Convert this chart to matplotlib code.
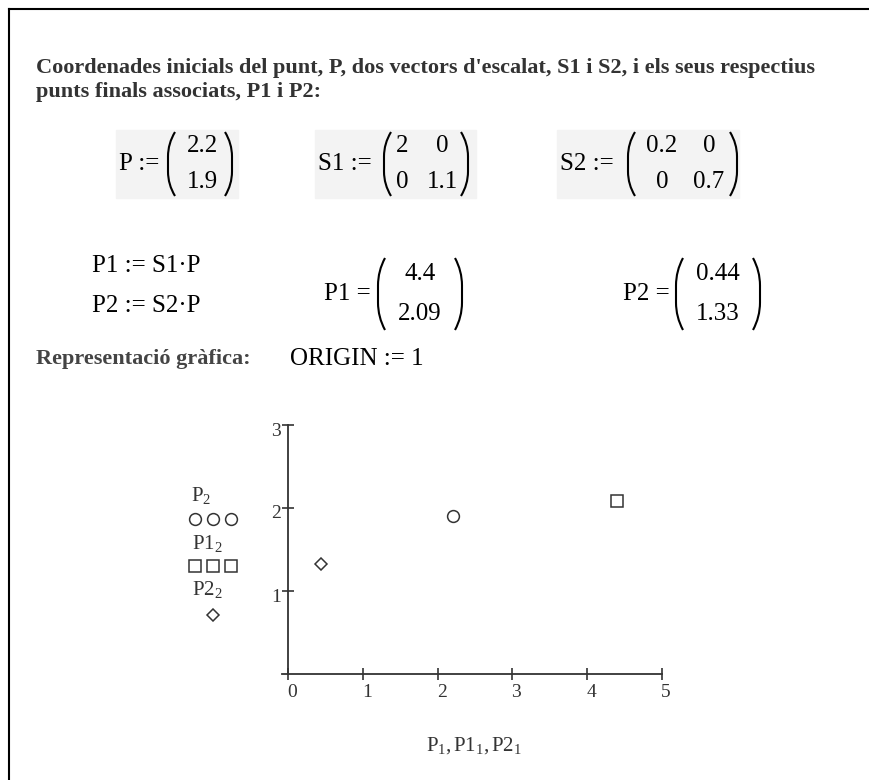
import numpy as np
import matplotlib.pyplot as plt
from matplotlib.path import Path
from matplotlib.patches import PathPatch, Rectangle
from matplotlib.transforms import ScaledTranslation

plt.rcParams['font.family'] = ['Liberation Serif', 'DejaVu Serif']
plt.rcParams['mathtext.fontset'] = 'custom'
plt.rcParams['mathtext.rm'] = 'Liberation Serif'
plt.rcParams['mathtext.it'] = 'Liberation Serif:italic'
plt.rcParams['mathtext.bf'] = 'Liberation Serif:bold'

# punt inicial, matrius d'escalat i punts finals
P = [2.2, 1.9]
S1 = [[2, 0], [0, 1.1]]
S2 = [[0.2, 0], [0, 0.7]]
P1 = [4.4, 2.09]
P2 = [0.44, 1.33]

x_ticks = [0, 1, 2, 3, 4, 5]
y_ticks = [1, 2, 3]

W, H = 869, 780
fig = plt.figure(figsize=(W / 100, H / 100), dpi=100)

# capa de fons en píxels per al text del full
ov = fig.add_axes([0, 0, 1, 1])
ov.set_xlim(0, W)
ov.set_ylim(H, 0)
ov.axis('off')

ov.plot([9, W], [9, 9], color='black', lw=1.5)
ov.plot([9, 9], [9, H], color='black', lw=1.5)

title_kw = dict(fontsize=16, fontweight='bold', color='#333333', va='center', ha='left')
ov.text(36, 68, "Coordenades inicials del punt, P, dos vectors d'escalat, S1 i S2, i els seus respectius", **title_kw)
ov.text(36, 92, "punts finals associats, P1 i P2:", **title_kw)

math_kw = dict(fontsize=18, color='black', va='center')


def fmt(v):
    return f"{v:g}"


def paren(x, top, bot, left=True, w=7):
    h = bot - top
    s = 1 if left else -1
    verts = [(x + s * w, top), (x, top + 0.18 * h), (x, top + 0.38 * h),
             (x, bot - 0.38 * h), (x, bot - 0.18 * h), (x + s * w, bot)]
    codes = [Path.MOVETO, Path.CURVE3, Path.CURVE3, Path.LINETO, Path.CURVE3, Path.CURVE3]
    ov.add_patch(PathPatch(Path(verts, codes), fill=False, lw=1.5, color='black'))


def matrix(rows, xl, xr, top, bot, cols):
    paren(xl, top, bot, left=True)
    paren(xr, top, bot, left=False)
    ys = [top + 0.22 * (bot - top), bot - 0.22 * (bot - top)]
    for r, row in enumerate(rows):
        for c, v in enumerate(row):
            ov.text(cols[c], ys[r], fmt(v), ha='center', **math_kw)


box = '#f3f3f3'
ov.add_patch(Rectangle((116, 130), 122, 68, color=box, zorder=0))
ov.add_patch(Rectangle((315, 130), 161, 68, color=box, zorder=0))
ov.add_patch(Rectangle((557, 130), 182, 68, color=box, zorder=0))

ov.text(119, 164, "P :=", ha='left', **math_kw)
matrix([[P[0]], [P[1]]], 168, 232, 132, 196, [202])

ov.text(318, 164, "S1 :=", ha='left', **math_kw)
matrix(S1, 384, 468, 132, 196, [402, 442])

ov.text(560, 164, "S2 :=", ha='left', **math_kw)
matrix(S2, 628, 737, 132, 196, [662, 709])

ov.text(92, 266, "P1 := S1·P", ha='left', **math_kw)
ov.text(92, 306, "P2 := S2·P", ha='left', **math_kw)

ov.text(324, 294, "P1 =", ha='left', **math_kw)
matrix([[P1[0]], [P1[1]]], 378, 462, 258, 330, [420])

ov.text(623, 294, "P2 =", ha='left', **math_kw)
matrix([[P2[0]], [P2[1]]], 676, 760, 258, 330, [718])

ov.text(36, 359, "Representació gràfica:", fontsize=16, fontweight='bold',
        color='#444444', va='center', ha='left')
ov.text(290, 359, "ORIGIN := 1", ha='left', **math_kw)

# llegenda a l'esquerra del gràfic
leg_kw = dict(fontsize=15, color='#333333', va='center', ha='center')
mk = dict(mfc='none', mec='#333333', mew=1.1, ls='none')
ov.text(201, 495, r"P$_2$", **leg_kw)
ov.plot([195, 213, 231], [519] * 3, 'o', ms=8.5, **mk)
ov.text(207, 543, r"P1$_2$", **leg_kw)
ov.plot([195, 213, 231], [566] * 3, 's', ms=8.5, **mk)
ov.text(207, 590, r"P2$_2$", **leg_kw)
ov.plot([213], [615], 'D', ms=6.5, **mk)

# gràfic de dispersió
x0, x5, y0, y3 = 288, 662, 674, 425
ux = (x5 - x0) / 5
xmin = -0.08
ax = fig.add_axes([(x0 + xmin * ux) / W, (H - y0) / H, (x5 - x0 - xmin * ux) / W, (y0 - y3) / H])
ax.set_xlim(xmin, 5)
ax.set_ylim(0, 3)
ax.patch.set_visible(False)
for s in ['top', 'right']:
    ax.spines[s].set_visible(False)
ax.spines['left'].set_position(('data', 0))
for s in ['left', 'bottom']:
    ax.spines[s].set_color('#333333')
    ax.spines[s].set_linewidth(1.3)

ax.set_xticks(x_ticks)
ax.set_yticks(y_ticks)
ax.tick_params(direction='inout', length=8, width=1.2, color='#333333',
               labelsize=14, labelcolor='#333333')
ax.tick_params(axis='x', pad=3)
ax.tick_params(axis='y', pad=1)
for t in ax.get_xticklabels():
    t.set_transform(t.get_transform() + ScaledTranslation(0.04, 0, fig.dpi_scale_trans))
for t in ax.get_yticklabels():
    t.set_transform(t.get_transform() + ScaledTranslation(0, -0.04, fig.dpi_scale_trans))

ax.plot(P[0], P[1], 'o', ms=8.5, **mk)
ax.plot(P1[0], P1[1], 's', ms=8.5, **mk)
ax.plot(P2[0], P2[1], 'D', ms=6.5, **mk)

ov.text(474, 746, r"P$_1$,$\,$P1$_1$,$\,$P2$_1$", **leg_kw)

fig.savefig('out.png', dpi=100)
